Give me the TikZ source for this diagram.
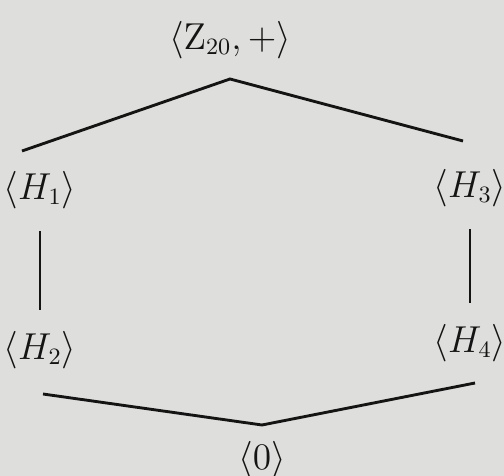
\documentclass[tikz,border=0pt]{standalone}
\usepackage{amsmath,amssymb}
\usepackage{tikz}
\usetikzlibrary{positioning, calc}
\definecolor{paper}{RGB}{222,222,220}
\definecolor{ink}{RGB}{20,20,20}

\begin{document}
\begin{tikzpicture}[
  x=0.0135cm, y=-0.0135cm,
  grp/.style={font=\fontsize{13.5}{16}\selectfont, text=ink, inner sep=1pt},
  edge/.style={line width=1.1pt, ink},
  vedge/.style={edge, shorten <=0.26cm, shorten >=0.24cm}
]
  \fill[paper] (0,0) rectangle (504,476);
  \useasboundingbox (0,0) rectangle (504,476);

  % subgroups
  \node[grp] (Z)  at (230,40)  {$\langle \mathrm{Z}_{20},+\rangle$};
  \node[grp] (H1) at (40,190)  {$\langle H_1\rangle$};
  \node[grp] (H3) at (470,188) {$\langle H_3\rangle$};
  \node[grp] (H2) at (40,350)  {$\langle H_2\rangle$};
  \node[grp] (H4) at (470,343) {$\langle H_4\rangle$};
  \node[grp] (O)  at (262,460) {$\langle 0\rangle$};

  % line ends
  \coordinate (top)  at (230,79);
  \coordinate (t1)   at (22,151);
  \coordinate (t3)   at (463,141);
  \coordinate (bot)  at (262,425);
  \coordinate (b2)   at (43,394);
  \coordinate (b4)   at (475,383);

  \draw[edge] (t1) -- (top) -- (t3);
  \draw[vedge] (H1) -- (H2);
  \draw[vedge] (H3) -- (H4);
  \draw[edge] (b2) -- (bot) -- (b4);
\end{tikzpicture}
\end{document}
